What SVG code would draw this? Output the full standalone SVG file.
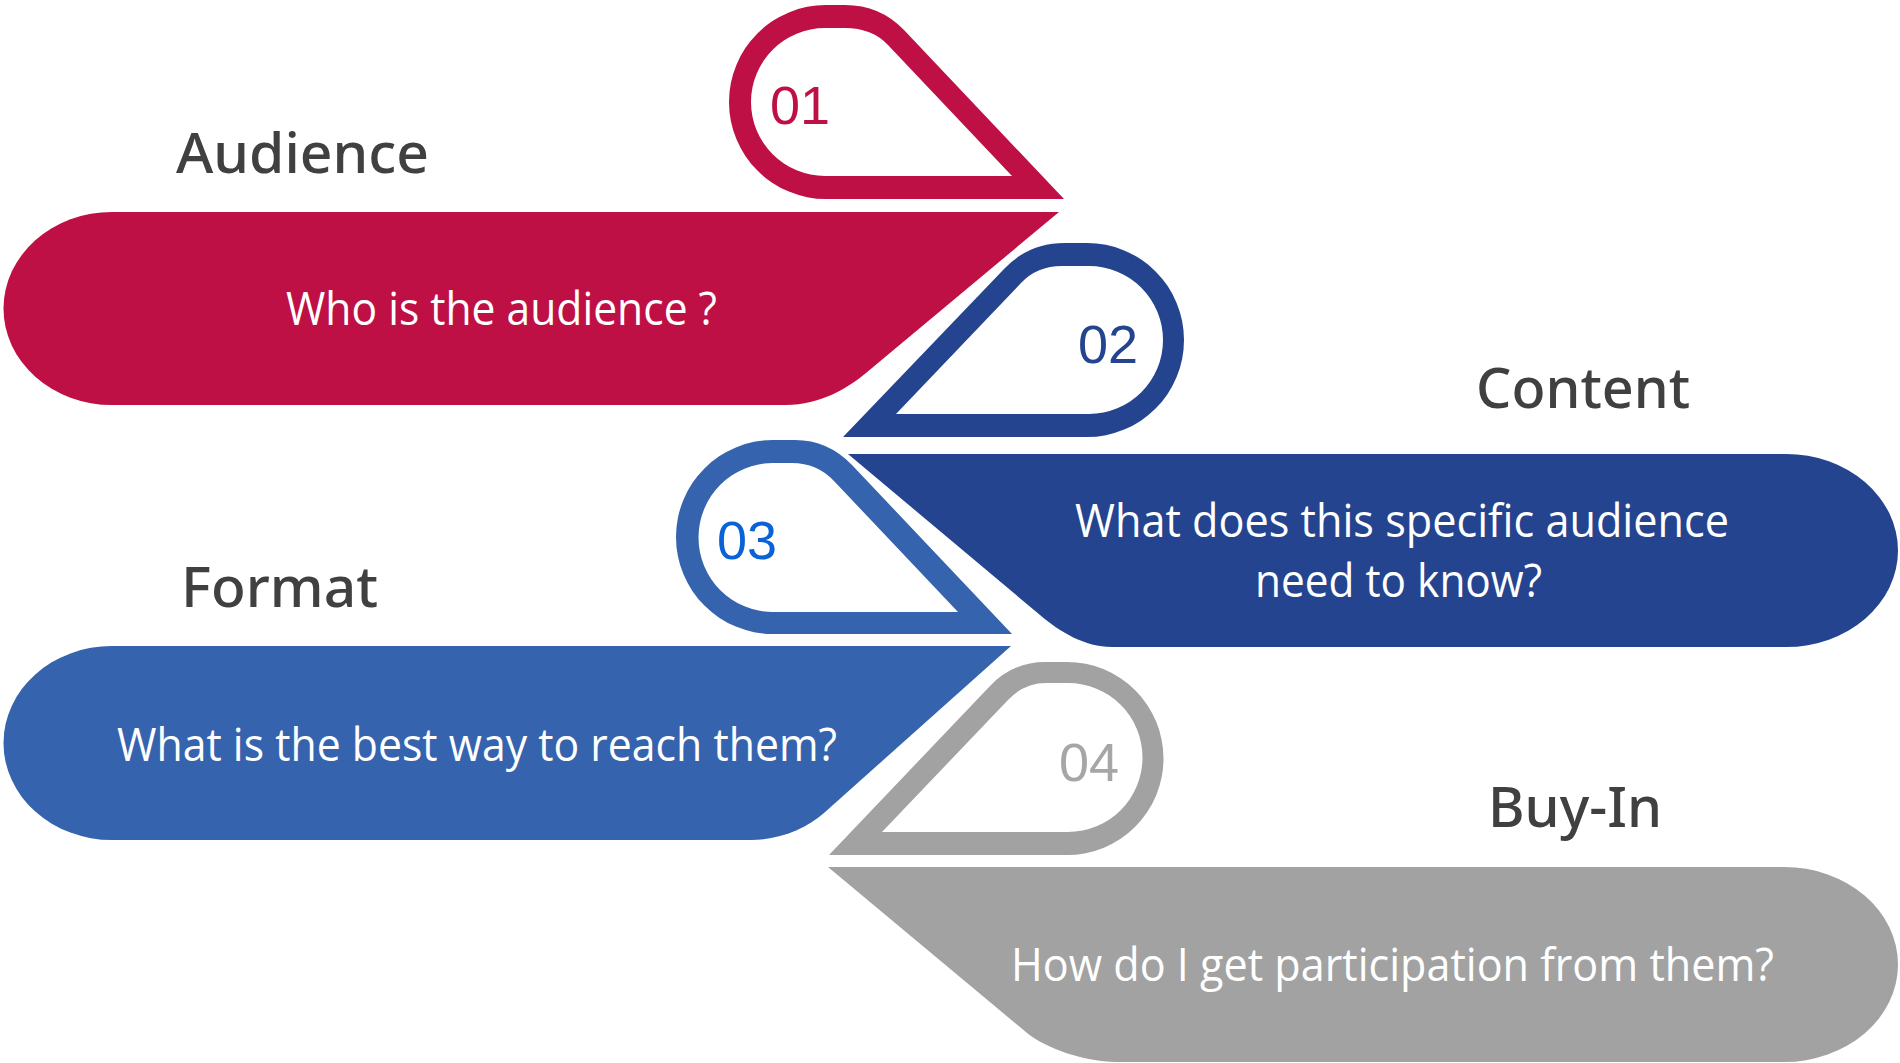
<svg xmlns="http://www.w3.org/2000/svg" width="1900" height="1063" viewBox="0 0 1900 1063">
<style>
.title{font-family:"Noto Sans","Open Sans","Liberation Sans",sans-serif;font-size:57px;font-weight:500;fill:#404040}
.body{font-family:"Open Sans","Noto Sans","Liberation Sans",sans-serif;font-size:45px;font-weight:400;fill:#ffffff}
.num{font-family:"Liberation Sans",Arial,sans-serif;font-size:54px}
.red{fill:#BE1045}
.dblue{fill:#24448F}
.mblue{fill:#3563AE}
.gray{fill:#A2A2A2}
</style>
<rect width="1900" height="1063" fill="#ffffff"/>
<g id="connectors"></g>

<g id="node-audience">
  <path class="red" fill-rule="evenodd" d="M826,5 L845,5 Q880,5 904,30 L1064,199 L826,199 A97,97 0 0 1 826,5 Z M825,28 L845,28 Q872,28 888,45 L1012,176 L825,176 A74,74 0 0 1 825,28 Z"/>
  <text class="num red" x="770" y="124">01</text>
  <text class="title" x="176" y="173" textLength="253" lengthAdjust="spacingAndGlyphs">Audience</text>
  <path class="red" d="M112,212 L1059,212 L866,373 C848,388 820,405 786,405 L112,405 A108.5,96.5 0 0 1 112,212 Z"/>
  <text class="body" x="286" y="325" textLength="431" lengthAdjust="spacingAndGlyphs">Who is the audience ?</text>
</g>

<g id="node-content">
  <path class="dblue" fill-rule="evenodd" d="M1087,243 A97,97 0 0 1 1087,437 L843,437 L1005,268 Q1029,243 1065,243 Z M1089,266 A74,74 0 0 1 1089,414 L896,414 L1021,283 Q1037,266 1062,266 Z"/>
  <text class="num dblue" x="1078" y="363">02</text>
  <text class="title" x="1476" y="408" textLength="214" lengthAdjust="spacingAndGlyphs">Content</text>
  <path class="dblue" d="M848,454 L1786,454 A112,96.5 0 0 1 1786,647 L1112,647 C1085,647 1060,632 1040,615 Z"/>
  <text class="body" x="1075" y="537" textLength="654" lengthAdjust="spacingAndGlyphs">What does this specific audience</text>
  <text class="body" x="1255" y="597" textLength="287" lengthAdjust="spacingAndGlyphs">need to know?</text>
</g>

<g id="node-format">
  <path class="mblue" fill-rule="evenodd" d="M773,440 L795,440 Q828,440 852,465 L1012,634 L773,634 A97,97 0 0 1 773,440 Z M773,463 L792,463 Q817,463 834,481 L958,612 L773,612 A74.5,74.5 0 0 1 773,463 Z"/>
  <text class="num" fill="#0B62D6" x="717" y="559">03</text>
  <text class="title" x="181" y="607" textLength="197" lengthAdjust="spacingAndGlyphs">Format</text>
  <path class="mblue" d="M112,646 L1011,646 L824,813 C807,828 780,840 751,840 L112,840 A108.5,97 0 0 1 112,646 Z"/>
  <text class="body" x="117" y="761" textLength="720" lengthAdjust="spacingAndGlyphs">What is the best way to reach them?</text>
</g>

<g id="node-buyin">
  <path class="gray" fill-rule="evenodd" d="M1067,662 A96.5,96.5 0 0 1 1067,855 L829,855 L990,686 Q1013,662 1045,662 Z M1068,683 A74.5,74.5 0 0 1 1068,832 L882,832 L1008,700 Q1024,683 1046,683 Z"/>
  <text class="num" fill="#A6A6A6" x="1059" y="781">04</text>
  <text class="title" x="1488" y="827" textLength="174" lengthAdjust="spacingAndGlyphs">Buy-In</text>
  <path class="gray" d="M828,867 L1784,867 A114,97.5 0 0 1 1784,1062 L1116,1062 C1085,1062 1045,1048 1027,1033 Z"/>
  <text class="body" x="1011" y="981" textLength="763" lengthAdjust="spacingAndGlyphs">How do I get participation from them?</text>
</g>
</svg>
